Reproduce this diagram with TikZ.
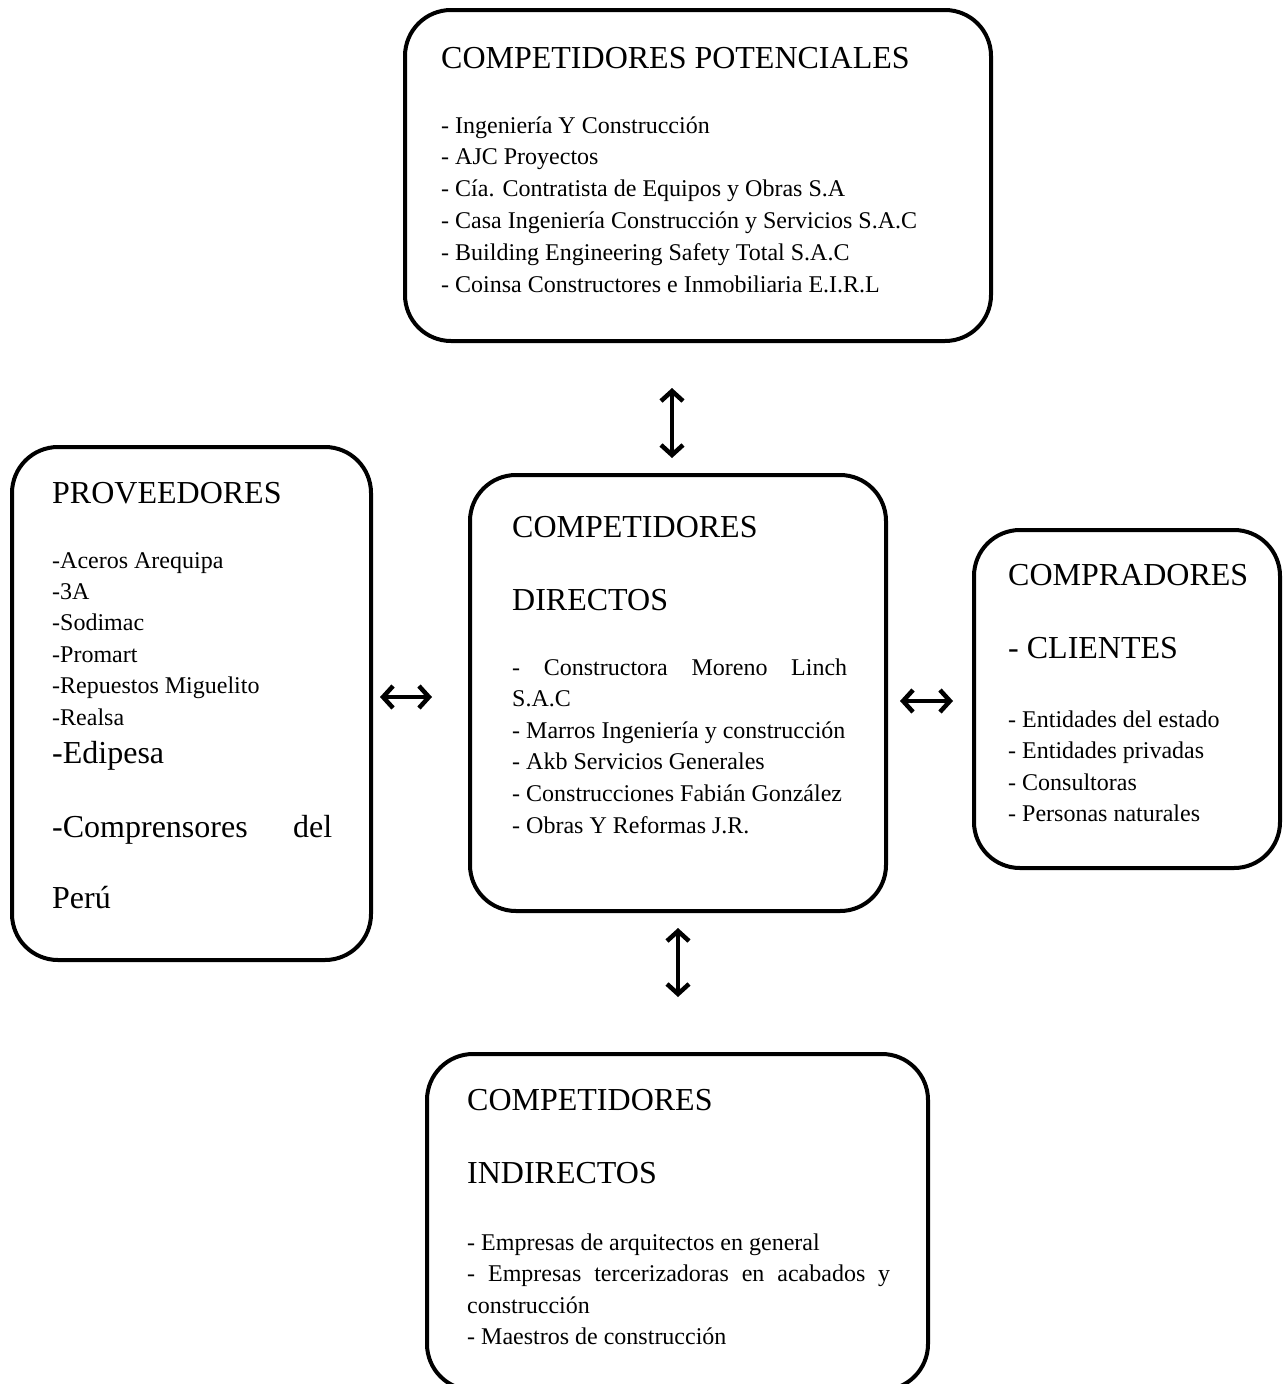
\documentclass[tikz,border=0pt]{standalone}
\usepackage{fontspec}
\setmainfont{Liberation Serif}
\usetikzlibrary{arrows.meta}
\newcommand\tam{\fontsize{24}{30}\selectfont}
\newcommand\tit{\fontsize{32}{38}\selectfont}

\begin{document}
\begin{tikzpicture}[x=1pt,y=-1pt,
  card/.style={draw, line width=4pt, rounded corners=46pt, outer sep=0pt, inner sep=0pt},
  head/.style={anchor=base west, inner sep=0pt, font=\tit},
  item/.style={anchor=base west, inner sep=0pt, font=\tam},
  twoway/.style={{Straight Barb[length=10pt,width=22pt,line width=4.5pt]}-{Straight Barb[length=10pt,width=22pt,line width=4.5pt]}, line width=3.6pt}]
\useasboundingbox (0,0) rectangle (1286,1384);
% cajas
\node[card, minimum width=586pt, minimum height=331pt] (pot) at (698,175.5) {};
\node[card, minimum width=359pt, minimum height=513pt] (prov) at (191.5,703.5) {};
\node[card, minimum width=416pt, minimum height=436pt] (direct) at (678,693) {};
\node[card, minimum width=306pt, minimum height=338pt] (buy) at (1127,699) {};
\node[card, minimum width=501pt, minimum height=336pt] (ind) at (677.5,1222) {};
% competidores potenciales
\node[head] (pot-head) at (441,68) {COMPETIDORES POTENCIALES};
\foreach \txt [count=\i from 0] in {- Ingeniería Y Construcción, - AJC Proyectos,
  - Cía. Contratista de Equipos y Obras S.A, - Casa Ingeniería Construcción y Servicios S.A.C,
  - Building Engineering Safety Total S.A.C, - Coinsa Constructores e Inmobiliaria E.I.R.L}
  \node[item] (pot-\i) at (441,{133+31.8*\i}) {\txt};
% proveedores
\node[head] (prov-head) at (52,503) {PROVEEDORES};
\foreach \txt [count=\i from 0] in {-Aceros Arequipa, -3A, -Sodimac, -Promart, -Repuestos Miguelito, -Realsa}
  \node[item] (prov-\i) at (52,{568+31.4*\i}) {\txt};
\node[head] (prov-6) at (52,763) {-Edipesa};
\node[head] (prov-7) at (52,837) {\makebox[280pt][s]{-Comprensores del}};
\node[head] (prov-8) at (52,908) {Perú};
% competidores directos
\node[head] (direct-head) at (512,537) {COMPETIDORES};
\node[head] (direct-sub) at (512,610) {DIRECTOS};
\foreach \txt [count=\i from 0] in {{\makebox[335pt][s]{- Constructora Moreno Linch}}, S.A.C,
  - Marros Ingeniería y construcción, - Akb Servicios Generales,
  - Construcciones Fabián González, - Obras Y Reformas J.R.}
  \node[item] (direct-\i) at (512,{675+31.6*\i}) {\txt};
% compradores
\node[head] (buy-head) at (1008,585) {COMPRADORES};
\node[head] (buy-sub) at (1008,658) {- CLIENTES};
\foreach \txt [count=\i from 0] in {- Entidades del estado, - Entidades privadas, - Consultoras, - Personas naturales}
  \node[item] (buy-\i) at (1008,{727+31.5*\i}) {\txt};
% competidores indirectos
\node[head] (ind-head) at (467,1110) {COMPETIDORES};
\node[head] (ind-sub) at (467,1183) {INDIRECTOS};
\foreach \txt [count=\i from 0] in {- Empresas de arquitectos en general,
  {\makebox[423pt][s]{- Empresas tercerizadoras en acabados y}}, construcción, - Maestros de construcción}
  \node[item] (ind-\i) at (467,{1250+31.6*\i}) {\txt};
% flechas
\draw[twoway, shorten <=47pt, shorten >=17pt] ([xshift=-26pt]pot.south) -- ([xshift=-6pt]direct.north);
\draw[twoway, shorten <=9pt, shorten >=38pt] ([yshift=6.5pt]prov.east) -- ([yshift=-4pt]direct.west);
\draw[twoway, shorten <=14pt, shorten >=21pt] ([yshift=-8pt]direct.east) -- ([yshift=-2pt]buy.west);
\draw[twoway, shorten <=17pt, shorten >=57pt] (direct.south) -- ([xshift=0.5pt]ind.north);
\end{tikzpicture}
\end{document}
